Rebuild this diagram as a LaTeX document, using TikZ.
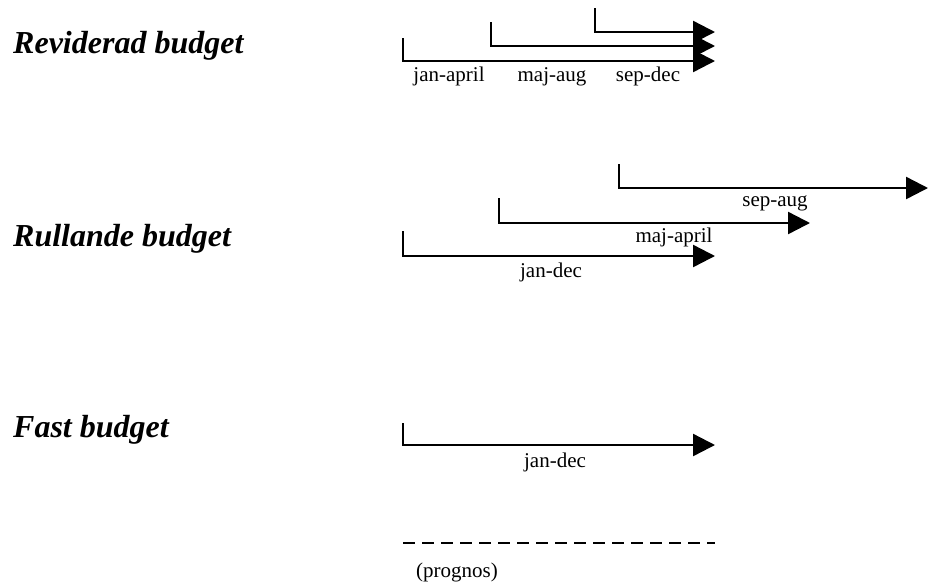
\documentclass[tikz,border=0pt]{standalone}
\usepackage{fontspec}
\setmainfont{Liberation Serif}
\usetikzlibrary{arrows.meta}

\tikzset{
  heading/.style={anchor=base west, inner sep=0pt,
    font=\fontsize{32}{37}\selectfont\bfseries\itshape},
  period/.style={anchor=base, inner sep=0pt, font=\fontsize{21}{25}\selectfont},
  span/.style={line width=2.4pt, -{Triangle[length=22pt,width=22pt]}},
  forecast/.style={line width=2.4pt, dash pattern=on 12pt off 7pt}
}

\begin{document}
\begin{tikzpicture}[x=1pt, y=-1pt]
  \useasboundingbox (0,0) rectangle (928,582);

  % headings
  \node[heading] (hrev)  at (13,53)  {Reviderad budget};
  \node[heading] (hrull) at (13,246) {Rullande budget};
  \node[heading] (hfast) at (13,437) {Fast budget};

  % revised budget: three periods re-planned to the same year end
  \coordinate (ra) at (403,38);  \coordinate (raE) at (715,61);
  \coordinate (rb) at (491,22);  \coordinate (rbE) at (715,46);
  \coordinate (rc) at (595,8);   \coordinate (rcE) at (715,32);
  \draw[span] (ra) |- (raE);
  \draw[span] (rb) |- (rbE);
  \draw[span] (rc) |- (rcE);
  \node[period] (lra) at (449,81) {jan-april};
  \node[period] (lrb) at (552,81) {maj-aug};
  \node[period] (lrc) at (648,81) {sep-dec};

  % rolling budget: twelve months from each start
  \coordinate (ua) at (403,231); \coordinate (uaE) at (715,256);
  \coordinate (ub) at (499,198); \coordinate (ubE) at (810,223);
  \coordinate (uc) at (619,164); \coordinate (ucE) at (928,188);
  \draw[span] (ua) |- (uaE);
  \draw[span] (ub) |- (ubE);
  \draw[span] (uc) |- (ucE);
  \node[period] (lua) at (551,277) {jan-dec};
  \node[period] (lub) at (674,242) {maj-april};
  \node[period] (luc) at (775,206) {sep-aug};

  % fixed budget
  \coordinate (fa) at (403,423); \coordinate (faE) at (715,445);
  \draw[span] (fa) |- (faE);
  \node[period] (lfa) at (555,467) {jan-dec};

  % forecast legend
  \coordinate (pa) at (403,543); \coordinate (pb) at (715,543);
  \draw[forecast] (pa) -- (pb);
  \node[period] (lp) at (457,577) {(prognos)};
\end{tikzpicture}
\end{document}
